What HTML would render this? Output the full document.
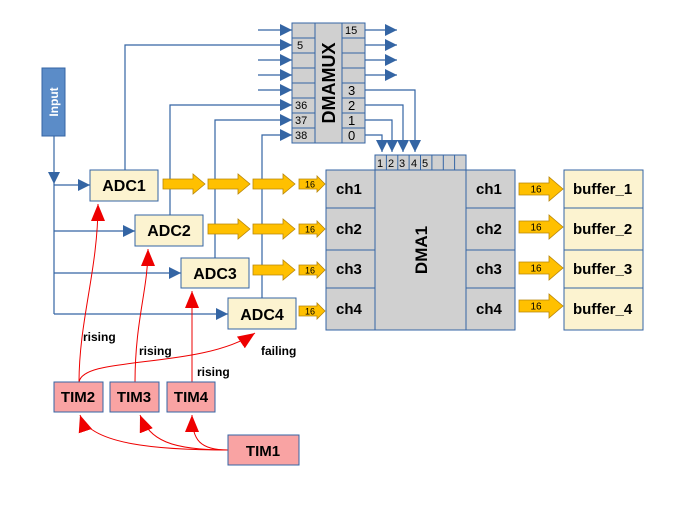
<!DOCTYPE html>
<html><head><meta charset="utf-8"><style>
body{margin:0;background:#fff;}
svg{display:block;font-family:"Liberation Sans",sans-serif;}
</style></head><body>
<svg width="689" height="507" viewBox="0 0 689 507">
<defs>
<marker id="ba" markerWidth="12" markerHeight="12" refX="12" refY="6" orient="auto" markerUnits="userSpaceOnUse"><path d="M0,0 L12,6 L0,12 Z" fill="#3465a4"/></marker>
<marker id="ra" markerWidth="18" markerHeight="14" refX="17" refY="7" orient="auto" markerUnits="userSpaceOnUse"><path d="M0,0 L17,7 L0,14 Z" fill="#e00"/></marker>
<g id="ya"><path d="M0,-5 H30 V-10 L42,0 L30,10 V5 H0 Z" fill="#ffc000" stroke="#b8860b" stroke-width="0.8"/></g>
<g id="ys"><path d="M0,-5 H18 V-8 L26,0 L18,8 V5 H0 Z" fill="#ffc000" stroke="#b8860b" stroke-width="0.8"/><text x="11" y="3.5" font-size="9" text-anchor="middle">16</text></g>
<g id="yb"><path d="M0,-6 H30 V-12 L44,0 L30,12 V6 H0 Z" fill="#ffc000" stroke="#b8860b" stroke-width="0.8"/><text x="17" y="3.5" font-size="10" text-anchor="middle">16</text></g>
</defs>
<g stroke="#3465a4" stroke-width="1.2" fill="none">
<line x1="258" y1="30" x2="292" y2="30" marker-end="url(#ba)"/>
<line x1="258" y1="60" x2="292" y2="60" marker-end="url(#ba)"/>
<line x1="258" y1="75" x2="292" y2="75" marker-end="url(#ba)"/>
<line x1="258" y1="90" x2="292" y2="90" marker-end="url(#ba)"/>
<polyline points="125,170 125,45 292,45" marker-end="url(#ba)"/>
<polyline points="170,215 170,105 292,105" marker-end="url(#ba)"/>
<polyline points="215,258 215,120 292,120" marker-end="url(#ba)"/>
<polyline points="262,298 262,135 292,135" marker-end="url(#ba)"/>
<line x1="365" y1="30" x2="397" y2="30" marker-end="url(#ba)"/>
<line x1="365" y1="45" x2="397" y2="45" marker-end="url(#ba)"/>
<line x1="365" y1="60" x2="397" y2="60" marker-end="url(#ba)"/>
<line x1="365" y1="75" x2="397" y2="75" marker-end="url(#ba)"/>
<polyline points="365,90 415,90 415,152" marker-end="url(#ba)"/>
<polyline points="365,105 403,105 403,152" marker-end="url(#ba)"/>
<polyline points="365,120 392,120 392,152" marker-end="url(#ba)"/>
<polyline points="365,135 382,135 382,152" marker-end="url(#ba)"/>
<line x1="54" y1="136" x2="54" y2="184" marker-end="url(#ba)"/>
<line x1="54" y1="184" x2="54" y2="314"/>
<line x1="54" y1="185" x2="90" y2="185" marker-end="url(#ba)"/>
<line x1="54" y1="231" x2="135" y2="231" marker-end="url(#ba)"/>
<line x1="54" y1="273" x2="181" y2="273" marker-end="url(#ba)"/>
<line x1="54" y1="314" x2="228" y2="314" marker-end="url(#ba)"/>
</g>
<rect x="42" y="68" width="23" height="68" fill="#5b8cc8" stroke="#3465a4"/>
<text transform="translate(58,102) rotate(-90)" font-size="12" font-weight="bold" text-anchor="middle" fill="#fff">Input</text>
<g fill="#d0d0d0" stroke="#3465a4" stroke-width="1">
<rect x="292" y="23" width="23" height="120"/><rect x="315" y="23" width="27" height="120"/><rect x="342" y="23" width="23" height="120"/>
</g>
<g stroke="#3465a4" stroke-width="1">
<line x1="292" y1="38" x2="315" y2="38"/><line x1="292" y1="53" x2="315" y2="53"/><line x1="292" y1="68" x2="315" y2="68"/><line x1="292" y1="83" x2="315" y2="83"/><line x1="292" y1="98" x2="315" y2="98"/><line x1="292" y1="113" x2="315" y2="113"/><line x1="292" y1="128" x2="315" y2="128"/>
<line x1="342" y1="38" x2="365" y2="38"/><line x1="342" y1="53" x2="365" y2="53"/><line x1="342" y1="68" x2="365" y2="68"/><line x1="342" y1="83" x2="365" y2="83"/><line x1="342" y1="98" x2="365" y2="98"/><line x1="342" y1="113" x2="365" y2="113"/><line x1="342" y1="128" x2="365" y2="128"/>
</g>
<g font-size="11" fill="#000">
<text x="297" y="49">5</text><text x="295" y="109">36</text><text x="295" y="124">37</text><text x="295" y="139">38</text>
<text x="345" y="34">15</text>
<text font-size="13" x="348" y="95">3</text><text font-size="13" x="348" y="110">2</text><text font-size="13" x="348" y="125">1</text><text font-size="13" x="348" y="140">0</text>
</g>
<text transform="translate(335,83) rotate(-90)" font-size="18" font-weight="bold" text-anchor="middle">DMAMUX</text>
<g fill="#d0d0d0" stroke="#3465a4" stroke-width="1">
<rect x="375" y="155" width="91" height="15"/>
<rect x="326" y="170" width="49" height="160"/><rect x="375" y="170" width="91" height="160"/><rect x="466" y="170" width="49" height="160"/>
</g>
<g stroke="#3465a4" stroke-width="1">
<line x1="386.4" y1="155" x2="386.4" y2="170"/><line x1="397.8" y1="155" x2="397.8" y2="170"/><line x1="409.1" y1="155" x2="409.1" y2="170"/><line x1="420.5" y1="155" x2="420.5" y2="170"/><line x1="431.9" y1="155" x2="431.9" y2="170"/><line x1="443.3" y1="155" x2="443.3" y2="170"/><line x1="454.6" y1="155" x2="454.6" y2="170"/>
<line x1="326" y1="208" x2="375" y2="208"/><line x1="326" y1="250" x2="375" y2="250"/><line x1="326" y1="288" x2="375" y2="288"/>
<line x1="466" y1="208" x2="515" y2="208"/><line x1="466" y1="250" x2="515" y2="250"/><line x1="466" y1="288" x2="515" y2="288"/>
</g>
<g font-size="11"><text x="377" y="167">1</text><text x="388" y="167">2</text><text x="399" y="167">3</text><text x="411" y="167">4</text><text x="422" y="167">5</text></g>
<g font-size="15" font-weight="bold">
<text x="336" y="194">ch1</text><text x="336" y="234">ch2</text><text x="336" y="274">ch3</text><text x="336" y="314">ch4</text>
<text x="476" y="194">ch1</text><text x="476" y="234">ch2</text><text x="476" y="274">ch3</text><text x="476" y="314">ch4</text>
</g>
<text transform="translate(427,250) rotate(-90)" font-size="17" font-weight="bold" text-anchor="middle">DMA1</text>
<g fill="#fcf3d0" stroke="#3465a4" stroke-width="1">
<rect x="564" y="170" width="79" height="38"/><rect x="564" y="208" width="79" height="42"/><rect x="564" y="250" width="79" height="38"/><rect x="564" y="288" width="79" height="42"/>
</g>
<g font-size="15" font-weight="bold">
<text x="573" y="194">buffer_1</text><text x="573" y="234">buffer_2</text><text x="573" y="274">buffer_3</text><text x="573" y="314">buffer_4</text>
</g>
<use href="#yb" x="519" y="189"/><use href="#yb" x="519" y="227"/><use href="#yb" x="519" y="268"/><use href="#yb" x="519" y="306"/>
<use href="#ya" x="163" y="184"/><use href="#ya" x="208" y="184"/><use href="#ya" x="253" y="184"/><use href="#ys" x="299" y="184"/>
<use href="#ya" x="208" y="229"/><use href="#ya" x="253" y="229"/><use href="#ys" x="299" y="229"/>
<use href="#ya" x="253" y="270"/><use href="#ys" x="299" y="270"/>
<use href="#ys" x="299" y="311"/>
<g fill="#fcf3d0" stroke="#3465a4" stroke-width="1">
<rect x="90" y="170" width="68" height="31"/><rect x="135" y="215" width="68" height="31"/><rect x="181" y="258" width="68" height="30"/><rect x="228" y="298" width="68" height="31"/>
</g>
<g font-size="16" font-weight="bold" text-anchor="middle">
<text x="124" y="191">ADC1</text><text x="169" y="236">ADC2</text><text x="215" y="279">ADC3</text><text x="262" y="320">ADC4</text>
</g>
<g stroke="#e00" stroke-width="1" fill="none">
<path d="M79,383 C79,320 98,270 98,204" marker-end="url(#ra)"/>
<path d="M135,383 C135,320 148,290 148,249" marker-end="url(#ra)"/>
<path d="M192,383 L192,291" marker-end="url(#ra)"/>
<path d="M79,383 C80,355 200,370 255,333" marker-end="url(#ra)"/>
<path d="M228,450 C160,450 90,445 80,415" marker-end="url(#ra)"/>
<path d="M228,450 C170,450 150,440 140,415" marker-end="url(#ra)"/>
<path d="M228,450 C200,450 192,440 192,415" marker-end="url(#ra)"/>
</g>
<g font-size="12" font-weight="bold">
<text x="83" y="341">rising</text><text x="139" y="355">rising</text><text x="197" y="376">rising</text><text x="261" y="355">failing</text>
</g>
<g fill="#f9a3a3" stroke="#3465a4" stroke-width="1">
<rect x="54" y="382" width="49" height="30"/><rect x="110" y="382" width="49" height="30"/><rect x="167" y="382" width="48" height="30"/><rect x="228" y="435" width="71" height="30"/>
</g>
<g font-size="15" font-weight="bold" text-anchor="middle">
<text x="78" y="402">TIM2</text><text x="134" y="402">TIM3</text><text x="191" y="402">TIM4</text><text x="263" y="456">TIM1</text>
</g>
</svg>
</body></html>
